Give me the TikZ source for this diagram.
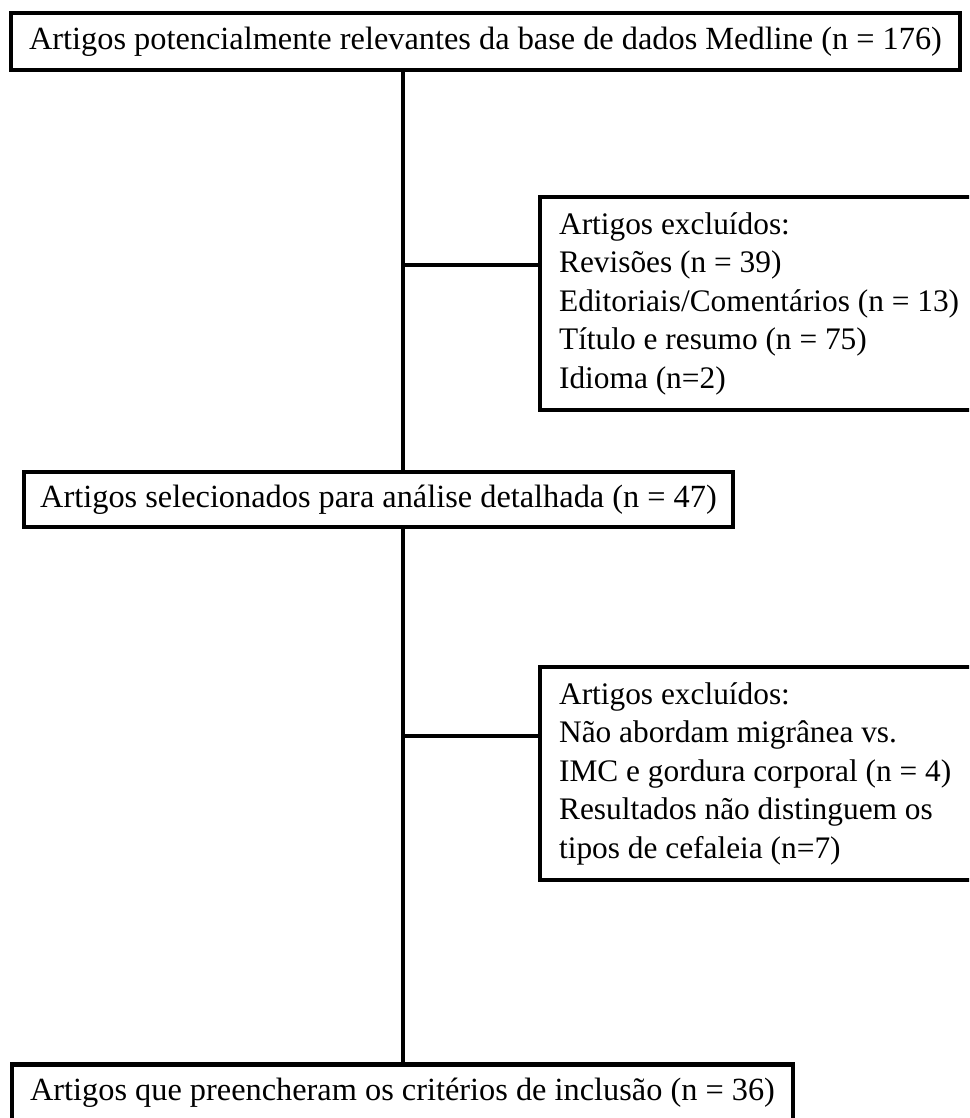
\documentclass[tikz,border=0pt]{standalone}
\usepackage{fontspec}
\setmainfont{Liberation Serif}
\usetikzlibrary{calc}

\begin{document}
\begin{tikzpicture}[x=0.025cm,y=-0.025cm,
  stage/.style={draw=black,line width=3pt,inner sep=0pt,minimum height=1.42cm,font=\fontsize{23}{27}\selectfont},
  excl/.style={draw=black,line width=3pt,anchor=north west,align=flush left,text width=10.8cm,
    inner xsep=0.475cm,inner ysep=0pt,minimum height=5.33cm,font=\fontsize{22.3}{27.4}\selectfont},
  link/.style={line width=2.8pt}]
\useasboundingbox (0,0) rectangle (969,1118);
\clip (0,0) rectangle (969,1118);
% main stages
\node[stage,minimum width=23.725cm] (src) at (485.5,41.5) {Artigos potencialmente relevantes da base de dados Medline (n = 176)};
\node[stage,minimum width=17.725cm,minimum height=1.375cm] (sel) at (378.5,499.5) {Artigos selecionados para análise detalhada (n = 47)};
\node[stage,minimum width=19.525cm] (inc) at (402.5,1093) {Artigos que preencheram os critérios de inclusão (n = 36)};
% exclusions
\node[excl] (exA) at (538,195) {Artigos excluídos:\\Revisões (n = 39)\\Editoriais/Comentários (n = 13)\\Título e resumo (n = 75)\\Idioma (n=2)};
\node[excl] (exB) at (538,665) {Artigos excluídos:\\Não abordam migrânea vs.\\IMC e gordura corporal (n = 4)\\Resultados não distinguem os\\tipos de cefaleia (n=7)};
% connectors
\coordinate (spine) at (403,0);
\coordinate (tapA) at ([yshift=-1.75cm]exA.north west);
\coordinate (tapB) at ([yshift=-1.775cm]exB.north west);
\draw[link] (src.south -| spine) -- (sel.north -| spine);
\draw[link] (sel.south -| spine) -- (inc.north -| spine);
\draw[link] (tapA -| spine) -- (tapA);
\draw[link] (tapB -| spine) -- (tapB);
\end{tikzpicture}
\end{document}
